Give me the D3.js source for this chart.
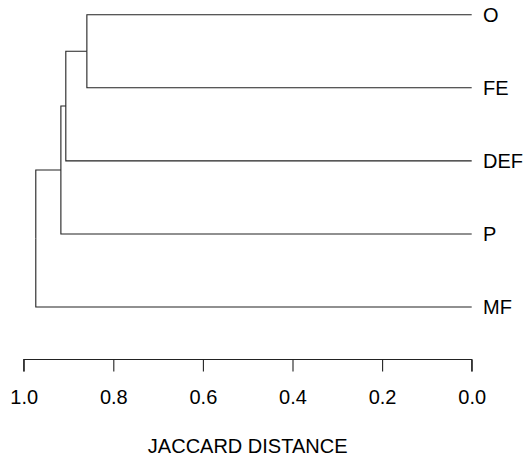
<!DOCTYPE html>
<html>
<head>
<meta charset="utf-8">
<script src="https://cdn.jsdelivr.net/npm/d3@7"></script>
<style>
  body { margin: 0; background: #fff; }
  svg { display: block; font-family: "Liberation Sans", Arial, sans-serif; }
</style>
</head>
<body>
<svg width="523" height="458"></svg>
<script>
// leaves, top to bottom
const leaves = ['O', 'FE', 'DEF', 'P', 'MF'];
// merge steps: [left, right, height]
const merges = [
  ['O', 'FE', 0.859],
  ['m0', 'DEF', 0.906],
  ['m1', 'P', 0.917],
  ['m2', 'MF', 0.973]
];
const tickValues = [1.0, 0.8, 0.6, 0.4, 0.2, 0.0];
const axisTitle = 'JACCARD DISTANCE';

const svg = d3.select('svg');

const x = d3.scaleLinear().domain([1, 0]).range([23.7, 471.7]);
const y = d3.scalePoint().domain(leaves).range([14.7, 307]);

// build tree nodes
const nodeMap = {};
leaves.forEach(name => { nodeMap[name] = { name, height: 0 }; });
merges.forEach((m, i) => {
  nodeMap['m' + i] = { name: 'm' + i, height: m[2], children: [nodeMap[m[0]], nodeMap[m[1]]] };
});
const root = d3.hierarchy(nodeMap['m' + (merges.length - 1)]);

root.eachAfter(d => {
  d.px = x(d.data.height);
  d.py = d.children ? d3.mean(d.children, c => c.py) : y(d.data.name);
});

const g = svg.append('g')
  .attr('fill', 'none')
  .attr('stroke', '#222')
  .attr('stroke-width', 1.1);

g.selectAll('path')
  .data(root.links())
  .enter()
  .append('path')
  .attr('d', d => `M${d.source.px},${d.source.py}V${d.target.py}H${d.target.px}`);

svg.append('g')
  .selectAll('text')
  .data(root.leaves())
  .enter()
  .append('text')
  .attr('x', 483)
  .attr('y', d => d.py)
  .attr('dy', '0.35em')
  .attr('font-size', 20)
  .attr('fill', '#000')
  .text(d => d.data.name);

const axis = svg.append('g')
  .attr('transform', 'translate(0,359.5)')
  .call(d3.axisBottom(x).tickValues(tickValues).tickFormat(d3.format('.1f')).tickSize(12));

axis.select('.domain').attr('d', `M${x(1)},12V0H${x(0)}V12`).attr('stroke', '#222').attr('stroke-width', 1.1);
axis.selectAll('.tick line').attr('stroke', '#222').attr('stroke-width', 1.1);
axis.selectAll('.tick text')
  .attr('y', 44.5)
  .attr('dy', 0)
  .attr('font-size', 20)
  .attr('font-family', '"Liberation Sans", Arial, sans-serif')
  .attr('fill', '#000');

svg.append('text')
  .attr('x', x(0.5))
  .attr('y', 453)
  .attr('text-anchor', 'middle')
  .attr('font-size', 20)
  .attr('fill', '#000')
  .text(axisTitle);
</script>
</body>
</html>
